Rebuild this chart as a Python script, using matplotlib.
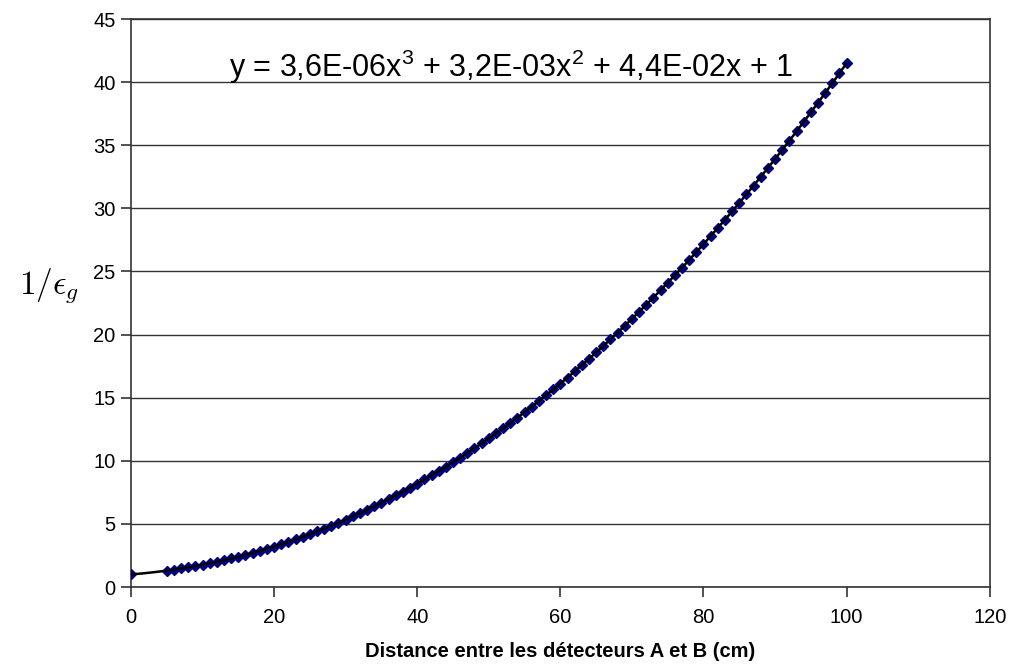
import matplotlib
matplotlib.use("Agg")
import matplotlib.pyplot as plt
import numpy as np

distance_cm = [0] + list(range(5, 101))
inv_eff = [1.00,
    1.30, 1.38, 1.47, 1.56, 1.66, 1.77, 1.88, 2.00, 2.13, 2.26,
    2.40, 2.55, 2.70, 2.87, 3.03, 3.21, 3.39, 3.58, 3.77, 3.98,
    4.19, 4.40, 4.63, 4.86, 5.10, 5.34, 5.59, 5.85, 6.12, 6.39,
    6.68, 6.96, 7.26, 7.56, 7.87, 8.19, 8.52, 8.85, 9.19, 9.53,
    9.89, 10.25, 10.62, 11.00, 11.38, 11.78, 12.17, 12.58, 13.00, 13.42,
    13.85, 14.29, 14.73, 15.19, 15.65, 16.12, 16.59, 17.08, 17.57, 18.07,
    18.58, 19.10, 19.62, 20.15, 20.69, 21.24, 21.80, 22.36, 22.93, 23.51,
    24.10, 24.70, 25.30, 25.91, 26.53, 27.16, 27.80, 28.45, 29.10, 29.76,
    30.43, 31.11, 31.80, 32.49, 33.20, 33.91, 34.63, 35.36, 36.10, 36.84,
    37.60, 38.36, 39.13, 39.91, 40.70, 41.50]

x_ticks = [0, 20, 40, 60, 80, 100, 120]
y_ticks = [0, 5, 10, 15, 20, 25, 30, 35, 40, 45]
equation = "y = 3,6E-06x$^3$ + 3,2E-03x$^2$ + 4,4E-02x + 1"

plt.rcParams['font.family'] = ['Liberation Sans', 'DejaVu Sans']
plt.rcParams['mathtext.fontset'] = 'custom'
plt.rcParams['mathtext.rm'] = 'Liberation Sans'

fig = plt.figure(figsize=(10.12, 6.67), dpi=100)
ax = fig.add_axes([0.1294, 0.1199, 0.978 - 0.1294, 0.9715 - 0.1199])

x = np.array(distance_cm, dtype=float)
y = np.array(inv_eff)
ax.plot(x, y, linestyle='none', marker='D', markersize=5,
        markerfacecolor='#000080', markeredgecolor='#000080', zorder=3)
coef = np.polyfit(x, y, 3)
xf = np.linspace(0, 100, 300)
ax.plot(xf, np.polyval(coef, xf), color='black', lw=1.8, zorder=4)

ax.set_xlim(0, 120)
ax.set_ylim(0, 45)
ax.set_xticks(x_ticks)
ax.set_yticks(y_ticks)
ax.yaxis.grid(True, color='#333333', lw=1.0)
ax.set_axisbelow(True)
for s in ax.spines.values():
    s.set_color('#333333')
    s.set_linewidth(1.2)
ax.tick_params(axis='both', direction='out', length=7, width=1.2,
               color='#333333', labelsize=14.5)
ax.tick_params(axis='y', pad=4)
ax.tick_params(axis='x', pad=8)

ax.set_xlabel("Distance entre les détecteurs A et B (cm)", fontsize=14.5,
              fontweight='bold', labelpad=11)
fig.text(0.048, 0.572, r"$1/\epsilon_g$", fontsize=24, ha='center', va='center',
         math_fontfamily='cm')

ax.text(0.443, 0.915, equation, transform=ax.transAxes, fontsize=22,
        ha='center', va='center')

fig.savefig("out.png", dpi=100)
